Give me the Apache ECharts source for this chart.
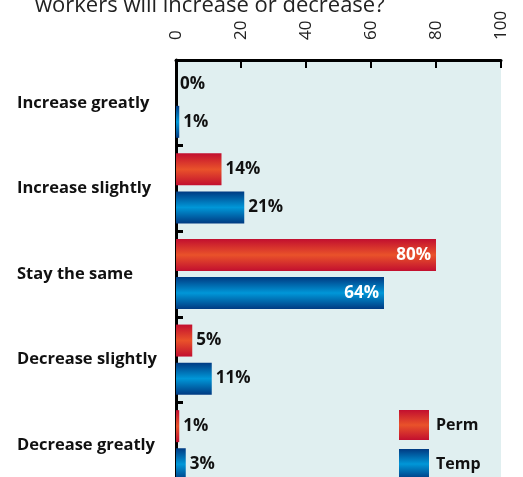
<!DOCTYPE html>
<html>
<head>
<meta charset="utf-8">
<script src="https://cdn.jsdelivr.net/npm/echarts@6/dist/echarts.min.js"></script>
<style>
  html, body { margin: 0; padding: 0; background: #ffffff; overflow: hidden; }
  #chart { width: 523px; height: 488px; }
</style>
</head>
<body>
<div id="chart"></div>
<script>
// Expected change in staffing levels, permanent vs temporary workers (%)
const titleText = 'workers will increase or decrease?';
const categories = ['Increase greatly', 'Increase slightly', 'Stay the same', 'Decrease slightly', 'Decrease greatly'];
const permValues = [0, 14, 80, 5, 1];
const tempValues = [1, 21, 64, 11, 3];
const xTicks = [0, 20, 40, 60, 80, 100];

const FONT = '"Open Sans", "Noto Sans", sans-serif';

function barGradient(edge, mid) {
  return new echarts.graphic.LinearGradient(0, 0, 0, 1, [
    { offset: 0, color: edge },
    { offset: 0.5, color: mid },
    { offset: 1, color: edge }
  ]);
}
const redFill = barGradient('#c20f2f', '#e9522a');
const blueFill = barGradient('#003a82', '#0097d8');

function valueLabel() {
  return {
    show: true,
    position: 'right',
    distance: 4,
    fontFamily: FONT,
    fontWeight: 'bold',
    fontSize: 17,
    color: '#111',
    formatter: p => p.value + '%'
  };
}

function seriesData(values) {
  return values.map(v => {
    const item = { value: v };
    if (v >= 50) {
      item.label = { position: 'insideRight', color: '#ffffff', distance: 5 };
    }
    return item;
  });
}

const chart = echarts.init(document.getElementById('chart'), null, { renderer: 'canvas' });
chart.setOption({
  animation: false,
  backgroundColor: '#ffffff',
  graphic: [{
    type: 'text',
    left: 35,
    top: -5,
    style: {
      text: titleText,
      font: '22px ' + FONT,
      fill: '#222'
    }
  }],
  legend: {
    orient: 'vertical',
    left: 399,
    top: 410,
    padding: 0,
    height: 78,
    itemWidth: 30,
    itemHeight: 30,
    itemGap: 9,
    icon: 'rect',
    textStyle: { fontFamily: FONT, fontWeight: 'bold', fontSize: 16, color: '#111', padding: [0, 0, 0, 2] },
    data: ['Perm', 'Temp']
  },
  grid: {
    left: 176,
    right: 22,
    top: 60,
    bottom: 0,
    show: true,
    backgroundColor: '#e0eff0',
    borderWidth: 0
  },
  xAxis: {
    type: 'value',
    position: 'top',
    min: xTicks[0],
    max: xTicks[xTicks.length - 1],
    interval: 20,
    axisLine: { show: true, lineStyle: { color: '#000', width: 3 } },
    axisTick: { show: true, inside: true, length: 8, lineStyle: { color: '#000', width: 2 } },
    splitLine: { show: false },
    axisLabel: {
      rotate: -90,
      margin: 20,
      fontFamily: FONT,
      fontSize: 17,
      color: '#222'
    }
  },
  yAxis: {
    type: 'category',
    inverse: true,
    data: categories,
    axisLine: { show: true, lineStyle: { color: '#000', width: 3 } },
    axisTick: { show: true, inside: true, length: 7, lineStyle: { color: '#000', width: 3 } },
    axisLabel: {
      align: 'left',
      margin: 159,
      fontFamily: FONT,
      fontWeight: 'bold',
      fontSize: 16.5,
      color: '#111'
    }
  },
  series: [
    {
      name: 'Perm',
      type: 'bar',
      data: seriesData(permValues),
      barWidth: 32,
      barGap: '19%',
      itemStyle: { color: redFill },
      label: valueLabel()
    },
    {
      name: 'Temp',
      type: 'bar',
      data: seriesData(tempValues),
      barWidth: 32,
      barGap: '19%',
      itemStyle: { color: blueFill },
      label: valueLabel()
    }
  ]
});
</script>
</body>
</html>
